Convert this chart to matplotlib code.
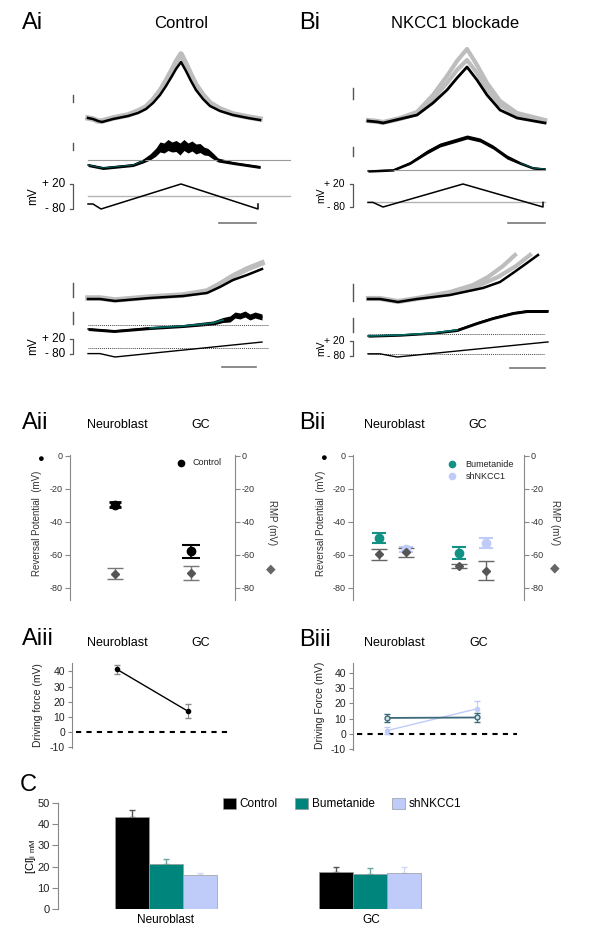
import numpy as np
import matplotlib
matplotlib.use('Agg')
import matplotlib.pyplot as plt
from matplotlib.lines import Line2D

plt.rcParams['font.family'] = ['Liberation Sans', 'DejaVu Sans']
plt.rcParams['axes.unicode_minus'] = False

W, H = 600, 947

# ---------------- data ----------------
# ramp traces (time in a.u., value in a.u. relative to baseline)
ai_top_t = [0, 5, 10, 14, 25, 40, 50, 58, 65, 72, 78, 84, 88, 93, 98, 103, 108, 115, 122, 132, 145, 160, 172]
ai_top_black = [2, 1, -1, -2, 1, 4, 7, 11, 17, 25, 34, 44, 51, 58, 49, 39, 30, 21, 14, 9, 5, 2, 0]
ai_top_gray = [2, 1, -1, -1, 2, 5, 9, 13, 20, 29, 39, 50, 58, 66, 56, 45, 35, 25, 17, 11, 6, 3, 1]

ai_mid_t = [0, 15, 45, 55, 62, 68, 72, 76, 80, 84, 88, 92, 96, 100, 104, 108, 112, 116, 120, 125, 130, 145, 172]
ai_mid = [-5, -8, -5, -1, 3, 8, 13, 12, 15, 13, 14, 11, 15, 12, 14, 11, 12, 9, 8, 4, 0, -3, -7]
ai_mid_noise = [1.5, 1.5, 1.5, 2, 3, 4, 5, 5, 5.5, 5, 5.5, 6, 5.5, 5, 5, 5, 4.5, 4, 3.5, 3, 2, 1.5, 1.5]

ramp_t = [0, 5, 13, 93, 170, 170]
ramp_mv = [-60, -60, -80, 20, -80, -60]
ai_erev_line = -30

bi_top_t = [0, 10, 15, 32, 49, 65, 79, 89, 99, 109, 119, 132, 149, 177]
bi_top_black = [0, -1, -2, 2, 6, 18, 31, 43, 54, 41, 26, 11, 3, -2]
bi_top_gray1 = [1, 0, -1, 3, 9, 26, 45, 60, 72, 56, 38, 20, 8, 1]
bi_top_gray2 = [0, -1, -2, 2, 7, 22, 38, 51, 61, 48, 32, 16, 6, 0]

bi_mid_t = [0, 25, 42, 59, 72, 89, 99, 112, 125, 139, 152, 165, 177]
bi_mid = [-1, 0, 7, 18, 25, 30, 33, 30, 23, 13, 7, 2, 1]
bi_mid_noise = [1.2, 1.2, 1.5, 2, 2, 2, 2, 2, 2, 2, 1.5, 1.2, 1.2]
bi_ramp_t = [0, 5, 15, 95, 175, 175]
bi_erev_line = -58

ail_top_t = [0, 12, 27, 62, 95, 119, 132, 145, 159, 174]
ail_top_black = [0, 0, -2, 1, 3, 6, 12, 19, 24, 30]
ail_top_gray = [1, 1, -1, 2, 4, 8, 15, 23, 30, 36]
ail_mid_t = [0, 26, 62, 95, 125, 135, 142, 147, 152, 157, 162, 167, 174]
ail_mid = [-4, -6, -3, -1, 2, 5, 6, 10, 9, 11, 8, 10, 8]
ail_mid_noise = [1.5, 1.5, 1.5, 1.5, 2, 2.5, 3, 3, 3, 3, 3, 3, 3]
ail_ramp_t = [0, 12, 27, 174]
ail_ramp_mv = [-60, -60, -80, 8]

bil_top_t = [0, 12, 30, 49, 82, 115, 132, 145, 159, 170]
bil_top_black = [0, 0, -3, 0, 4, 11, 17, 26, 36, 44]
bil_gray1_t = [0, 12, 30, 49, 82, 105, 120, 135, 147]
bil_gray1 = [1, 1, -2, 1, 7, 14, 22, 33, 44]
bil_gray2_t = [0, 12, 30, 49, 82, 110, 130, 148, 162]
bil_gray2 = [0, 0, -3, 0, 5, 13, 22, 33, 44]
bil_mid_t = [0, 32, 65, 89, 109, 125, 145, 159, 180]
bil_mid = [-2, -1, 1, 4, 11, 16, 21, 23, 23]
bil_mid_noise = [1.2, 1.2, 1.2, 1.5, 1.5, 1.5, 1.5, 1.5, 1.5]
bil_ramp_t = [0, 12, 29, 180]
bil_ramp_mv = [-60, -60, -80, 14]

# reversal potential / RMP (mV)
cells = ['Neuroblast', 'GC']
erev_ctrl = [-29.5, -57.8]
erev_ctrl_err = [1.7, 4.0]
rmp_ctrl = [-71.3, -71.0]
rmp_ctrl_err = [3.5, 4.3]

erev_bum = [-49.7, -58.7]
erev_bum_err = [3.0, 3.5]
rmp_bum = [-59.7, -66.8]
rmp_bum_err = [3.3, 1.2]
erev_sh = [-56.5, -52.7]
erev_sh_err = [1.5, 3.2]
rmp_sh = [-58.5, -69.6]
rmp_sh_err = [2.8, 5.8]

# driving force (mV)
df_ctrl = [41.3, 13.7]
df_ctrl_err = [3.0, 4.5]
df_bum = [10.5, 10.8]
df_bum_err = [2.5, 3.0]
df_sh = [2.2, 16.5]
df_sh_err = [2.5, 5.0]

# [Cl]i (mM)
cl_ctrl = [43.3, 17.4]
cl_ctrl_err = [3.3, 2.5]
cl_bum = [21.3, 16.6]
cl_bum_err = [2.3, 2.7]
cl_sh = [15.8, 17.1]
cl_sh_err = [1.2, 2.8]

BLACK = '#000000'
TEAL = '#00857c'
TEAL_M = '#129185'
LIGHT = '#bfcbf8'
GRAYTR = '#bdbdbd'
SLATE = '#3c6a7a'

fig = plt.figure(figsize=(W / 100, H / 100), dpi=100)


def fbox(x0, y0, x1, y1):
    return [x0 / W, 1 - y1 / H, (x1 - x0) / W, (y1 - y0) / H]


def ftext(x, y, s, **kw):
    kw.setdefault('ha', 'center')
    kw.setdefault('va', 'center')
    fig.text(x / W, 1 - y / H, s, **kw)


def fline(xs, ys, **kw):
    kw.setdefault('color', '#555555')
    kw.setdefault('lw', 1.0)
    fig.add_artist(Line2D([x / W for x in xs], [1 - y / H for y in ys], **kw))


def lin(p, ref):
    pa, va, pb, vb = ref
    return va + (p - pa) * (vb - va) / (pb - pa)


def trace_ax(x0, y0, x1, y1, xref, yref):
    ax = fig.add_axes(fbox(x0, y0, x1, y1))
    ax.set_xlim(lin(x0, xref), lin(x1, xref))
    ax.set_ylim(lin(y1, yref), lin(y0, yref))
    ax.axis('off')
    return ax


def mv_bracket(x, ytop, ybot, xmv, fs):
    fline([x - 3, x, x, x - 3], [ytop, ytop, ybot, ybot], color='#555555', lw=0.9)
    ftext(x - 8, ytop, '+ 20', ha='right', fontsize=fs)
    ftext(x - 8, ybot, '- 80', ha='right', fontsize=fs)
    ftext(xmv, (ytop + ybot) / 2, 'mV', rotation=90, fontsize=fs)


# ---------------- panel titles ----------------
ftext(22, 23, 'Ai', ha='left', fontsize=17)
ftext(181, 23, 'Control', fontsize=12)
ftext(299, 23, 'Bi', ha='left', fontsize=17)
ftext(455, 23, 'NKCC1 blockade', fontsize=12)

# ---------------- Ai upper ----------------
ax = trace_ax(80, 40, 295, 128, (88, 0, 89, 1), (120, 0, 119, 1))
ax.plot(ai_top_t, ai_top_gray, color=GRAYTR, lw=4, solid_joinstyle='round')
ax.plot(ai_top_t, ai_top_black, color=BLACK, lw=1.8)

ax = trace_ax(80, 128, 295, 175, (88, 0, 89, 1), (160, 0, 159, 1))
ax.plot([0, 202], [0, 0], color='#9a9a9a', lw=0.8)
m = np.array(ai_mid)
n = np.array(ai_mid_noise)
ax.fill_between(ai_mid_t, m - n, m + n, color=BLACK, lw=0)
ax.plot(ai_mid_t, ai_mid, color=BLACK, lw=1.0)
ax.plot(ai_mid_t[:4], ai_mid[:4], color=TEAL, lw=0.6, alpha=0.8)

ax = trace_ax(80, 178, 295, 215, (88, 0, 89, 1), (209, -80, 184, 20))
ax.plot([0, 202], [ai_erev_line, ai_erev_line], color='#b5b5b5', lw=1.0)
ax.plot(ramp_t, ramp_mv, color=BLACK, lw=1.1)
mv_bracket(73, 184, 209, 33, 8.5)

fline([73, 73], [95, 102])
fline([73, 73], [143, 150])
fline([219, 256], [223, 223], color='#777777', lw=1.2)

# ---------------- Bi upper ----------------
ax = trace_ax(360, 40, 560, 128, (368, 0, 369, 1), (121, 0, 120, 1))
ax.plot(bi_top_t, bi_top_gray1, color=GRAYTR, lw=3, solid_joinstyle='round')
ax.plot(bi_top_t, bi_top_gray2, color=GRAYTR, lw=3, solid_joinstyle='round')
ax.plot(bi_top_t, bi_top_black, color=BLACK, lw=2.0)

ax = trace_ax(360, 128, 560, 175, (368, 0, 369, 1), (170, 0, 169, 1))
ax.plot([0, 177], [0, 0], color='#9a9a9a', lw=0.8)
m = np.array(bi_mid)
n = np.array(bi_mid_noise)
ax.fill_between(bi_mid_t, m - n, m + n, color=BLACK, lw=0)
ax.plot(bi_mid_t, bi_mid, color=BLACK, lw=1.0)
ax.plot(bi_mid_t[-3:], bi_mid[-3:], color=TEAL, lw=0.6, alpha=0.8)

ax = trace_ax(360, 178, 560, 215, (368, 0, 369, 1), (207, -80, 184, 20))
ax.plot([0, 177], [bi_erev_line, bi_erev_line], color='#b5b5b5', lw=1.0)
ax.plot(bi_ramp_t, ramp_mv, color=BLACK, lw=1.1)
mv_bracket(353, 184, 207, 321, 7.5)

fline([353, 353], [88, 99])
fline([353, 353], [147, 156])
fline([508, 545], [223, 223], color='#777777', lw=1.2)

# ---------------- Ai lower ----------------
ax = trace_ax(80, 250, 295, 305, (88, 0, 89, 1), (299, 0, 298, 1))
ax.plot(ail_top_t, ail_top_gray, color=GRAYTR, lw=4)
ax.plot(ail_top_t, ail_top_black, color=BLACK, lw=1.8)

ax = trace_ax(80, 305, 295, 334, (88, 0, 89, 1), (325, 0, 324, 1))
ax.plot([0, 180], [0, 0], color='#444444', lw=0.7, ls=(0, (1, 1)))
m = np.array(ail_mid)
n = np.array(ail_mid_noise)
ax.fill_between(ail_mid_t, m - n, m + n, color=BLACK, lw=0)
ax.plot(ail_mid_t, ail_mid, color=BLACK, lw=1.0)
ax.plot(ail_mid_t[2:6], ail_mid[2:6], color=TEAL, lw=1.2, alpha=0.8)

ax = trace_ax(80, 336, 295, 362, (88, 0, 89, 1), (357, -80, 340, 20))
ax.plot([0, 180], [ai_erev_line, ai_erev_line], color='#444444', lw=0.7, ls=(0, (1, 1)))
ax.plot(ail_ramp_t, ail_ramp_mv, color=BLACK, lw=1.0)
mv_bracket(73, 339, 354, 33, 8.5)

fline([73, 73], [283, 297])
fline([73, 73], [312, 324])
fline([222, 256], [367, 367], color='#777777', lw=1.2)

# ---------------- Bi lower ----------------
ax = trace_ax(360, 250, 560, 305, (368, 0, 369, 1), (299, 0, 298, 1))
ax.plot(bil_gray1_t, bil_gray1, color=GRAYTR, lw=3)
ax.plot(bil_gray2_t, bil_gray2, color=GRAYTR, lw=3)
ax.plot(bil_top_t, bil_top_black, color=BLACK, lw=1.8)

ax = trace_ax(360, 305, 560, 340, (368, 0, 369, 1), (334, 0, 333, 1))
ax.plot([0, 177], [0, 0], color='#444444', lw=0.7, ls=(0, (1, 1)))
m = np.array(bil_mid)
n = np.array(bil_mid_noise)
ax.fill_between(bil_mid_t, m - n, m + n, color=BLACK, lw=0)
ax.plot(bil_mid_t, bil_mid, color=BLACK, lw=1.0)
ax.plot(bil_mid_t[:4], bil_mid[:4], color=TEAL, lw=1.2, alpha=0.8)

ax = trace_ax(360, 338, 560, 362, (368, 0, 369, 1), (357, -80, 341, 20))
ax.plot([0, 177], [-60, -60], color='#444444', lw=0.7, ls=(0, (1, 1)))
ax.plot(bil_ramp_t, bil_ramp_mv, color=BLACK, lw=1.0)
mv_bracket(353, 341, 356, 321, 7.5)

fline([353, 353], [284, 301])
fline([353, 353], [318, 332])
fline([510, 545], [368, 368], color='#777777', lw=1.2)


# ---------------- Aii / Bii ----------------
def rev_axes(x0, x1, xlim):
    ax = fig.add_axes(fbox(x0, 455, x1, 600))
    ax.set_xlim(*xlim)
    ax.set_ylim(-87.3, 0.6)
    for s in ['top', 'bottom', 'right']:
        ax.spines[s].set_visible(False)
    ax.spines['left'].set_color('#888888')
    ax.set_xticks([])
    ax.set_yticks([0, -20, -40, -60, -80])
    ax.tick_params(axis='y', labelsize=6.5, colors='#888888', labelcolor='#333333',
                   length=3.5, width=0.8, pad=2)
    ax.patch.set_visible(False)
    ax2 = ax.twinx()
    ax2.set_ylim(-87.3, 0.6)
    for s in ['top', 'bottom', 'left']:
        ax2.spines[s].set_visible(False)
    ax2.spines['right'].set_color('#888888')
    ax2.set_yticks([0, -20, -40, -60, -80])
    ax2.tick_params(axis='y', labelsize=6.5, colors='#888888', labelcolor='#333333',
                    length=3.5, width=0.8, pad=1)
    return ax


ftext(22, 423, 'Aii', ha='left', fontsize=17)
ftext(117, 425, 'Neuroblast', fontsize=9)
ftext(201, 425, 'GC', fontsize=9)
ax = rev_axes(70, 235, (-0.592, 1.579))
xs = np.arange(len(cells))
ax.errorbar(xs, rmp_ctrl, yerr=rmp_ctrl_err, fmt='D', color='#555555', ms=4,
            ecolor='#777777', elinewidth=1, capsize=6, capthick=1)
ax.errorbar(xs[:1], erev_ctrl[:1], yerr=erev_ctrl_err[:1], fmt='o', color=BLACK, ms=6,
            ecolor=BLACK, elinewidth=1.5, capsize=4.5, capthick=2)
ax.errorbar(xs[1:], erev_ctrl[1:], yerr=erev_ctrl_err[1:], fmt='o', color=BLACK, ms=6,
            ecolor=BLACK, elinewidth=1.2, capsize=6.5, capthick=1.5)
ax.plot([0.87], [-4.0], 'o', color=BLACK, ms=4.5, clip_on=False)
ax.text(1.02, -4.0, 'Control', fontsize=6.5, va='center', color='#222222')
ftext(40, 459, '\u25CF', fontsize=8)
ftext(271, 569, '\u25C6', fontsize=9, color='#666666')
ftext(37, 523, 'Reversal Potential  (mV)', rotation=90, fontsize=7, color='#333333')
ftext(272, 523, 'RMP (mV)', rotation=270, fontsize=7, color='#333333')

ftext(299, 423, 'Bii', ha='left', fontsize=17)
ftext(394, 425, 'Neuroblast', fontsize=9)
ftext(478, 425, 'GC', fontsize=9)
ax = rev_axes(353, 524, (-0.494, 1.644))
off = 0.17
ax.errorbar(xs - off, erev_bum, yerr=erev_bum_err, fmt='o', color=TEAL_M, ms=6,
            ecolor=TEAL_M, elinewidth=1.2, capsize=5, capthick=1.5)
ax.errorbar(xs + off, erev_sh, yerr=erev_sh_err, fmt='o', color=LIGHT, ms=6,
            ecolor=LIGHT, elinewidth=1.2, capsize=5, capthick=1.5)
ax.errorbar(xs - off, rmp_bum, yerr=rmp_bum_err, fmt='D', color='#555555', ms=4,
            ecolor='#666666', elinewidth=1, capsize=5.5, capthick=1)
ax.errorbar(xs + off, rmp_sh, yerr=rmp_sh_err, fmt='D', color='#555555', ms=4,
            ecolor='#666666', elinewidth=1, capsize=5.5, capthick=1)
ax.plot([0.745], [-5.0], 'o', color=TEAL_M, ms=4.5, clip_on=False)
ax.text(0.91, -5.0, 'Bumetanide', fontsize=6.5, va='center', color='#222222')
ax.plot([0.745], [-12.3], 'o', color=LIGHT, ms=4.5, clip_on=False)
ax.text(0.91, -12.3, 'shNKCC1', fontsize=6.5, va='center', color='#222222')
ftext(323, 458, '\u25CF', fontsize=8)
ftext(555, 568, '\u25C6', fontsize=9, color='#666666')
ftext(321, 523, 'Reversal Potential  (mV)', rotation=90, fontsize=7, color='#333333')
ftext(555, 523, 'RMP (mV)', rotation=270, fontsize=7, color='#333333')


# ---------------- Aiii / Biii ----------------
def df_axes(x0, x1, y0, y1, xlim, ylim):
    ax = fig.add_axes(fbox(x0, y0, x1, y1))
    ax.set_xlim(*xlim)
    ax.set_ylim(*ylim)
    for s in ['top', 'bottom', 'right']:
        ax.spines[s].set_visible(False)
    ax.spines['left'].set_color('#888888')
    ax.set_xticks([])
    ax.set_yticks([-10, 0, 10, 20, 30, 40])
    ax.tick_params(axis='y', labelsize=7.5, colors='#888888', labelcolor='#222222',
                   length=3, width=0.8, pad=2)
    ax.patch.set_visible(False)
    return ax


ftext(22, 639, 'Aiii', ha='left', fontsize=17)
ftext(117, 643, 'Neuroblast', fontsize=9)
ftext(201, 643, 'GC', fontsize=9)
ax = df_axes(72, 240, 663, 748, (-0.634, 1.732), (-10.5, 45.5))
ax.plot([-0.577, 1.577], [0, 0], color=BLACK, lw=1.5, ls=(0, (2.5, 2.5)))
ax.errorbar(xs, df_ctrl, yerr=df_ctrl_err, fmt='o-', color=BLACK, ms=3, lw=1,
            ecolor='#888888', elinewidth=0.8, capsize=2)
ftext(38, 705, 'Driving force (mV)', rotation=90, fontsize=7.5, color='#222222')

ftext(299, 640, 'Biii', ha='left', fontsize=17)
ftext(394, 643, 'Neuroblast', fontsize=9)
ftext(479, 643, 'GC', fontsize=9)
ax = df_axes(353, 525, 663, 750, (-0.378, 1.533), (-10.5, 46.5))
ax.plot([-0.333, 1.444], [0, 0], color=BLACK, lw=1.5, ls=(0, (2.5, 2.5)))
ax.errorbar(xs, df_sh, yerr=df_sh_err, fmt='o-', color=LIGHT, ms=3, lw=1,
            ecolor=LIGHT, elinewidth=0.8, capsize=2)
ax.errorbar(xs, df_bum, yerr=df_bum_err, fmt='o-', color=SLATE, mfc='#cfe0ea', ms=3.5, lw=1.3,
            ecolor=SLATE, elinewidth=0.8, capsize=2)
ftext(320, 705, 'Driving Force (mV)', rotation=90, fontsize=7.5, color='#222222')

# ---------------- C ----------------
ftext(20, 785, 'C', ha='left', fontsize=17)
ax = fig.add_axes(fbox(58, 800, 600, 909))
ax.set_xlim(-0.527, 2.122)
ax.set_ylim(0, 51.4)
for s in ['top', 'bottom', 'right']:
    ax.spines[s].set_visible(False)
ax.spines['left'].set_color('#888888')
ax.spines['left'].set_bounds(0, 50)
ax.set_xticks([])
ax.set_yticks([0, 10, 20, 30, 40, 50])
ax.tick_params(axis='y', labelsize=8, colors='#888888', labelcolor='#222222', length=4, width=0.8, pad=2)
ax.patch.set_visible(False)
bw = 0.166
series = [(cl_ctrl, cl_ctrl_err, BLACK, 'Control', '#555555'),
          (cl_bum, cl_bum_err, TEAL, 'Bumetanide', '#6aa5a0'),
          (cl_sh, cl_sh_err, LIGHT, 'shNKCC1', '#d0d8f5')]
handles = []
for i, (vals, errs, col, lab, ecol) in enumerate(series):
    pos = xs + (i - 1) * bw
    b = ax.bar(pos, vals, width=bw, color=col, edgecolor='#9a9a9a', lw=0.5, label=lab, zorder=2)
    ax.errorbar(pos, vals, yerr=[np.zeros(len(errs)), errs], fmt='none', ecolor=ecol,
                elinewidth=1, capsize=2.5, zorder=1)
    handles.append(b)
ax.legend(handles=handles, ncol=3, loc='center left', bbox_to_anchor=(223 / W, 1 - 804 / H),
          bbox_transform=fig.transFigure, frameon=False, fontsize=8.5, handlelength=1.1,
          handleheight=1.1, handletextpad=0.3, columnspacing=1.5, borderaxespad=0, borderpad=0)
ftext(31, 856, r'[Cl]$_{\mathregular{i\ mM}}$', rotation=90, fontsize=8)
ftext(166, 920, 'Neuroblast', fontsize=8.5)
ftext(371, 920, 'GC', fontsize=8.5)

fig.savefig('out.png', dpi=100)
